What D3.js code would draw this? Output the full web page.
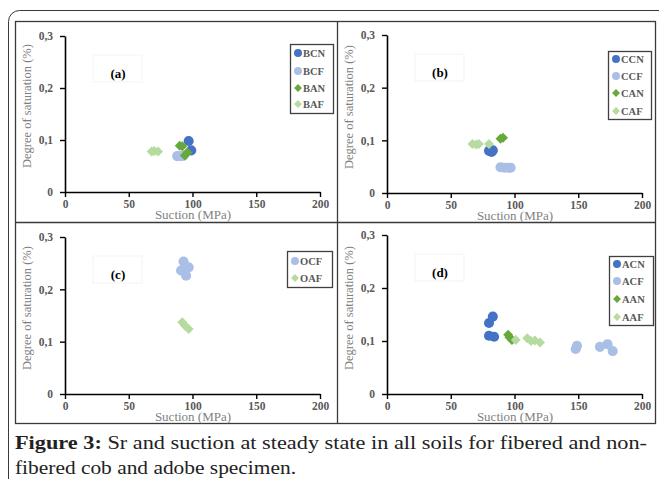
<!DOCTYPE html>
<html>
<head>
<meta charset="utf-8">
<script src="https://cdn.jsdelivr.net/npm/d3@7"></script>
<style>
  body { margin: 0; background: #fff; }
  svg { display: block; }
</style>
</head>
<body>
<div class="svg-content"></div>
<script>
// suction (MPa), degree of saturation
const xTicks = [0, 50, 100, 150, 200];
const yTicks = [0, 0.1, 0.2, 0.3];
const yTickLabels = ["0", "0,1", "0,2", "0,3"];

const bcn = [[97, 0.098], [99, 0.080]];
const bcf = [[88, 0.069], [91, 0.069], [93, 0.070]];
const ban = [[90, 0.089], [92, 0.088], [96, 0.076], [94, 0.070]];
const baf = [[68, 0.078], [70, 0.079], [73, 0.078]];

const ccn = [[80, 0.080], [82, 0.078], [83, 0.081]];
const ccf = [[89, 0.049], [92, 0.048], [95, 0.048], [97, 0.048]];
const can = [[89, 0.103], [91, 0.105]];
const caf = [[67, 0.093], [70, 0.092], [72, 0.093], [80, 0.093]];

const ocf = [[93, 0.253], [91, 0.236], [97, 0.242], [95, 0.226], [94, 0.240]];
const oaf = [[92, 0.137], [94, 0.131], [97, 0.124]];

const acn = [[83, 0.146], [80, 0.134], [80, 0.110], [84, 0.108]];
const acf = [[148, 0.085], [149, 0.091], [167, 0.089], [173, 0.094], [177, 0.081]];
const aan = [[95, 0.112], [96, 0.107], [98, 0.102]];
const aaf = [[101, 0.102], [110, 0.105], [113, 0.100], [116, 0.101], [120, 0.097]];

const darkBlue = "#4472c4";
const lightBlue = "#a9bfe6";
const green = "#66a83c";
const lightGreen = "#b5dba0";

const panels = [
  { tag: "(a)", x0: 65, y0: 192, yTop: 36, legend: [290, 44, 43, 69], rows: [53, 71, 88, 104],
    series: [["BCN", bcn, darkBlue, "c"], ["BCF", bcf, lightBlue, "c"], ["BAN", ban, green, "d"], ["BAF", baf, lightGreen, "d"]] },
  { tag: "(b)", x0: 387, y0: 193, yTop: 35, legend: [608, 51, 43, 68], rows: [59, 76, 93, 111],
    series: [["CCN", ccn, darkBlue, "c"], ["CCF", ccf, lightBlue, "c"], ["CAN", can, green, "d"], ["CAF", caf, lightGreen, "d"]] },
  { tag: "(c)", x0: 65, y0: 394, yTop: 237, legend: [287, 251, 45, 36], rows: [261, 278],
    series: [["OCF", ocf, lightBlue, "c"], ["OAF", oaf, lightGreen, "d"]] },
  { tag: "(d)", x0: 387, y0: 394, yTop: 235, legend: [609, 256, 44, 69], rows: [264, 281, 299, 317],
    series: [["ACN", acn, darkBlue, "c"], ["ACF", acf, lightBlue, "c"], ["AAN", aan, green, "d"], ["AAF", aaf, lightGreen, "d"]] }
];

const svgWidth = 659;
const svgHeight = 479;
const serif = "'Liberation Serif', 'Times New Roman', serif";

let svg = d3.select(".svg-content")
            .append("svg")
            .attr("width", svgWidth)
            .attr("height", svgHeight);

// outer rounded frame and panel grid
svg.append("rect")
   .attr("x", 8.5).attr("y", 10.5)
   .attr("width", 670).attr("height", 500)
   .attr("rx", 11)
   .attr("fill", "none").attr("stroke", "#3a3a3a").attr("stroke-width", 1);

svg.append("rect")
   .attr("x", 15.5).attr("y", 21.5)
   .attr("width", 640).attr("height", 402)
   .attr("fill", "none").attr("stroke", "#3a3a3a").attr("stroke-width", 1.3);

svg.append("line")
   .attr("x1", 337.5).attr("x2", 337.5).attr("y1", 21).attr("y2", 424)
   .attr("stroke", "#3a3a3a").attr("stroke-width", 1.3);

svg.append("line")
   .attr("x1", 15).attr("x2", 656).attr("y1", 222.5).attr("y2", 222.5)
   .attr("stroke", "#3a3a3a").attr("stroke-width", 1.3);

const circle = d3.symbol().type(d3.symbolCircle);
const square = d3.symbol().type(d3.symbolSquare);

function marker(sel, shape, size) {
  if (shape === "c") {
    sel.attr("d", circle.size(size)());
  } else {
    sel.attr("d", square.size(size * 0.62)());
  }
}

panels.forEach(p => {
  const g = svg.append("g");

  const xScale = d3.scaleLinear()
                   .domain([0, 200])
                   .range([p.x0, p.x0 + 255]);

  const yScale = d3.scaleLinear()
                   .domain([0, 0.3])
                   .range([p.y0, p.yTop]);

  const xAxis = d3.axisBottom(xScale)
                  .tickValues(xTicks)
                  .tickFormat(d3.format("d"))
                  .tickSize(5)
                  .tickSizeOuter(0)
                  .tickPadding(3);

  const yAxis = d3.axisLeft(yScale)
                  .tickValues(yTicks)
                  .tickFormat((d, i) => yTickLabels[i])
                  .tickSize(5)
                  .tickSizeOuter(0)
                  .tickPadding(7);

  const gx = g.append("g")
              .attr("transform", "translate(0," + p.y0 + ")")
              .call(xAxis);

  const gy = g.append("g")
              .attr("transform", "translate(" + p.x0 + ",0)")
              .call(yAxis);

  [gx, gy].forEach(a => {
    a.attr("font-family", serif);
    a.select(".domain").attr("stroke", "#000").attr("stroke-width", 1.6);
    a.selectAll(".tick line").attr("stroke", "#000").attr("stroke-width", 1.4);
    a.selectAll(".tick text")
     .attr("fill", "#595959")
     .style("font-family", serif)
     .style("font-size", "11.5px")
     .style("font-weight", "bold");
  });

  // axis titles
  g.append("text")
   .attr("x", p.x0 + 128)
   .attr("y", p.y0 + 27)
   .attr("text-anchor", "middle")
   .attr("fill", "#7f7f7f")
   .style("font-family", serif)
   .style("font-size", "13px")
   .text("Suction (MPa)");

  g.append("text")
   .attr("transform", "translate(" + (p.x0 - 34) + "," + (p.y0 - 86) + ") rotate(-90)")
   .attr("text-anchor", "middle")
   .attr("fill", "#7f7f7f")
   .style("font-family", serif)
   .style("font-size", "12.5px")
   .text("Degree of saturation (%)");

  // panel tag with its faint text box
  g.append("rect")
   .attr("x", p.x0 + 28).attr("y", p.yTop + 19)
   .attr("width", 49).attr("height", 27)
   .attr("fill", "none").attr("stroke", "#f3f3f3");

  g.append("text")
   .attr("x", p.x0 + 53)
   .attr("y", p.yTop + 42)
   .attr("text-anchor", "middle")
   .attr("fill", "#000")
   .style("font-family", serif)
   .style("font-size", "13px")
   .style("font-weight", "bold")
   .text(p.tag);

  // points
  p.series.forEach(s => {
    g.append("g")
     .selectAll("path")
     .data(s[1])
     .enter()
     .append("path")
     .call(marker, s[3], 80)
     .attr("transform", d => "translate(" + xScale(d[0]) + "," + yScale(d[1]) + ")" + (s[3] === "d" ? " rotate(45)" : ""))
     .attr("fill", s[2]);
  });

  // legend
  const lg = g.append("g");
  lg.append("rect")
    .attr("x", p.legend[0] + 0.5).attr("y", p.legend[1] + 0.5)
    .attr("width", p.legend[2]).attr("height", p.legend[3])
    .attr("fill", "#fff").attr("stroke", "#404040").attr("stroke-width", 1.3);

  p.series.forEach((s, i) => {
    lg.append("path")
      .call(marker, s[3], 50)
      .attr("transform", "translate(" + (p.legend[0] + 8) + "," + p.rows[i] + ")" + (s[3] === "d" ? " rotate(45)" : ""))
      .attr("fill", s[2]);

    lg.append("text")
      .attr("x", p.legend[0] + 13)
      .attr("y", p.rows[i] + 3.5)
      .attr("fill", "#595959")
      .style("font-family", serif)
      .style("font-size", "10.5px")
      .style("font-weight", "bold")
      .text(s[0]);
  });
});

// caption
const line1 = svg.append("text")
                 .attr("x", 15).attr("y", 449)
                 .attr("textLength", 632)
                 .attr("lengthAdjust", "spacingAndGlyphs")
                 .attr("fill", "#222")
                 .style("font-family", serif)
                 .style("font-size", "19px");
line1.append("tspan").style("font-weight", "bold").text("Figure 3:");
line1.append("tspan").text(" Sr and suction at steady state in all soils for fibered and non-");

svg.append("text")
   .attr("x", 15).attr("y", 474)
   .attr("textLength", 281)
   .attr("lengthAdjust", "spacingAndGlyphs")
   .attr("fill", "#222")
   .style("font-family", serif)
   .style("font-size", "19px")
   .text("fibered cob and adobe specimen.");
</script>
</body>
</html>
